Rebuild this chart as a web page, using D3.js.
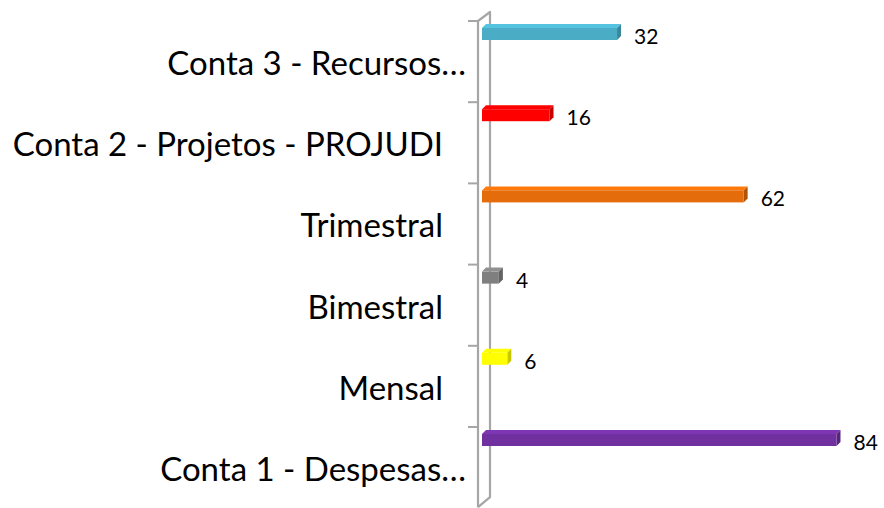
<!DOCTYPE html>
<html>
<head>
<meta charset="utf-8">
<script src="https://cdn.jsdelivr.net/npm/d3@7"></script>
<style>
  html, body { margin: 0; padding: 0; background: #ffffff; }
  svg { display: block; }
</style>
</head>
<body>
<svg id="chart" width="884" height="508"></svg>
<script>
// Categories, top to bottom
const categories = [
  "Conta 3 - Recursos…",
  "Conta 2 - Projetos - PROJUDI",
  "Trimestral",
  "Bimestral",
  "Mensal",
  "Conta 1 - Despesas…"
];
const values = [32, 16, 62, 4, 6, 84];
const colors = ["#4bacc6", "#ff0000", "#e46c0a", "#7f7f7f", "#ffff00", "#7030a0"];

const svg = d3.select("#chart");

// Layout of the plot: the category wall sits at wallX, bars grow to the right
const wallX = 478, wallDepthX = 12, wallDepthY = 9;
const plotTop = 21, step = 81.2;
const barX0 = 482;
const depth = 4;           // 3D extrusion of the bars
const barOffset = 7, barH = 12;

const y = d3.scaleBand()
  .domain(categories)
  .range([plotTop, plotTop + step * categories.length])
  .paddingInner(0).paddingOuter(0);

const x = d3.scaleLinear().domain([0, 90]).range([barX0, barX0 + 90 * 4.22]);

const wallColor = "#a6a6a6";
const plotBottom = plotTop + step * categories.length - 1;

// Thin 3D wall holding the category axis
svg.append("path")
  .attr("d", `M${wallX},${plotTop} L${wallX + wallDepthX},${plotTop - wallDepthY} L${wallX + wallDepthX},${plotBottom - 10} L${wallX},${plotBottom}`)
  .attr("fill", "none")
  .attr("stroke", wallColor)
  .attr("stroke-width", 2.2)
  .attr("stroke-linejoin", "round");
svg.append("line")
  .attr("x1", wallX).attr("x2", wallX)
  .attr("y1", plotTop).attr("y2", plotBottom)
  .attr("stroke", wallColor).attr("stroke-width", 2.2);

// Tick marks at category boundaries
svg.append("g").selectAll("line")
  .data(categories)
  .join("line")
  .attr("x1", wallX - 10).attr("x2", wallX)
  .attr("y1", d => y(d)).attr("y2", d => y(d))
  .attr("stroke", wallColor).attr("stroke-width", 2);

// Bars as extruded boxes: front, top and right faces
const bars = svg.append("g").selectAll("g")
  .data(categories.map((c, i) => ({ c, v: values[i], col: colors[i] })))
  .join("g");

bars.append("path") // top face
  .attr("d", d => {
    const y0 = y(d.c) + barOffset, x1 = x(d.v);
    return `M${barX0},${y0} L${barX0 + depth},${y0 - depth} L${x1 + depth},${y0 - depth} L${x1},${y0} Z`;
  })
  .attr("fill", d => d3.color(d.col).brighter(0.35));

bars.append("path") // right face
  .attr("d", d => {
    const y0 = y(d.c) + barOffset, x1 = x(d.v);
    return `M${x1},${y0} L${x1 + depth},${y0 - depth} L${x1 + depth},${y0 + barH - depth} L${x1},${y0 + barH} Z`;
  })
  .attr("fill", d => d3.color(d.col).darker(0.7));

bars.append("rect") // front face
  .attr("x", barX0)
  .attr("y", d => y(d.c) + barOffset)
  .attr("width", d => x(d.v) - barX0)
  .attr("height", barH)
  .attr("fill", d => d.col);

// Value labels
bars.append("text")
  .attr("x", d => x(d.v) + depth + 13)
  .attr("y", d => y(d.c) + 23)
  .attr("font-family", "Lato, 'Open Sans', sans-serif")
  .attr("font-size", 21)
  .attr("fill", "#000")
  .text(d => d.v);

// Category labels
svg.append("g").selectAll("text")
  .data(categories)
  .join("text")
  .attr("x", d => d.endsWith("…") ? 466 : 443)
  .attr("y", d => y(d) + 54)
  .attr("text-anchor", "end")
  .attr("font-family", "Lato, 'Open Sans', sans-serif")
  .attr("font-size", 33)
  .attr("fill", "#000")
  .text(d => d);
</script>
</body>
</html>
